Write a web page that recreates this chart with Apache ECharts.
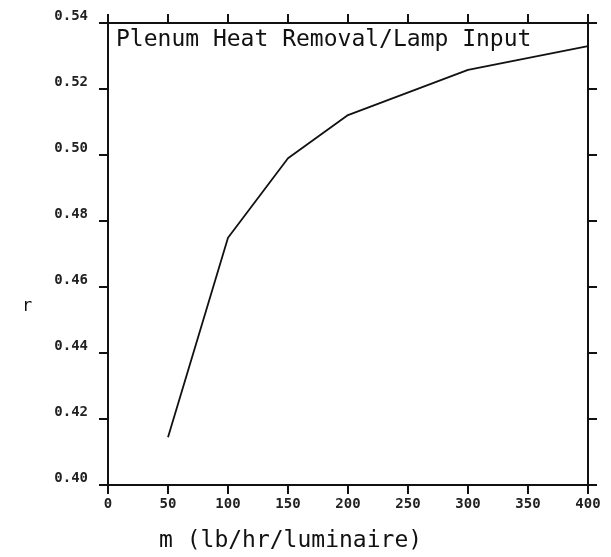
<!DOCTYPE html>
<html>
<head>
<meta charset="utf-8">
<script src="https://cdn.jsdelivr.net/npm/echarts@6/dist/echarts.min.js"></script>
<style>html,body{margin:0;padding:0;background:#fff;}#c{width:611px;height:557px;}</style>
</head>
<body>
<div id="c"></div>
<script>
var xValues = [50, 100, 150, 200, 300, 400];
var rValues = [0.4145, 0.4749, 0.499, 0.5121, 0.5258, 0.533];
var titleText = 'Plenum Heat Removal/Lamp Input';
var xName = 'm (lb/hr/luminaire)';
var yName = 'r';

var chart = echarts.init(document.getElementById('c'));
var axisLine = {show: true, onZero: false, lineStyle: {color: '#111', width: 2}};
var tick = {show: true, inside: false, length: 9, lineStyle: {color: '#111', width: 2}};
var mono = 'DejaVu Sans Mono';
chart.setOption({
  animation: false,
  backgroundColor: '#fff',
  grid: {left: 108, right: 23, top: 23, bottom: 72},
  xAxis: [
    {type: 'value', position: 'bottom', min: 0, max: 400, interval: 50,
     axisLine: axisLine, axisTick: tick, splitLine: {show: false},
     axisLabel: {show: true, margin: 12, fontFamily: mono, fontWeight: 'bold', fontSize: 14, color: '#222'}},
    {type: 'value', position: 'top', min: 0, max: 400, interval: 50,
     axisLine: axisLine, axisTick: tick, splitLine: {show: false}, axisLabel: {show: false}}
  ],
  yAxis: [
    {type: 'value', position: 'left', min: 0.40, max: 0.54, interval: 0.02,
     axisLine: axisLine, axisTick: tick, splitLine: {show: false},
     axisLabel: {show: true, margin: 20, verticalAlign: 'bottom', fontFamily: mono, fontWeight: 'bold', fontSize: 14, color: '#222',
       formatter: function (v) { return v.toFixed(2); }}},
    {type: 'value', position: 'right', min: 0.40, max: 0.54, interval: 0.02,
     axisLine: axisLine, axisTick: tick, splitLine: {show: false}, axisLabel: {show: false}}
  ],
  graphic: [
    {type: 'text', left: 116, top: 29, style: {text: titleText, font: '23px "DejaVu Sans Mono"', fill: '#111'}},
    {type: 'text', left: 159, top: 530, style: {text: xName, font: '23px "DejaVu Sans Mono"', fill: '#111'}},
    {type: 'text', left: 22, top: 298, style: {text: yName, font: '17px "DejaVu Sans Mono"', fill: '#111'}}
  ],
  series: [{
    type: 'line',
    xAxisIndex: 0, yAxisIndex: 0,
    data: xValues.map(function (x, i) { return [x, rValues[i]]; }),
    showSymbol: false, symbol: 'none',
    lineStyle: {color: '#111', width: 1.8}
  }]
});
</script>
</body>
</html>
